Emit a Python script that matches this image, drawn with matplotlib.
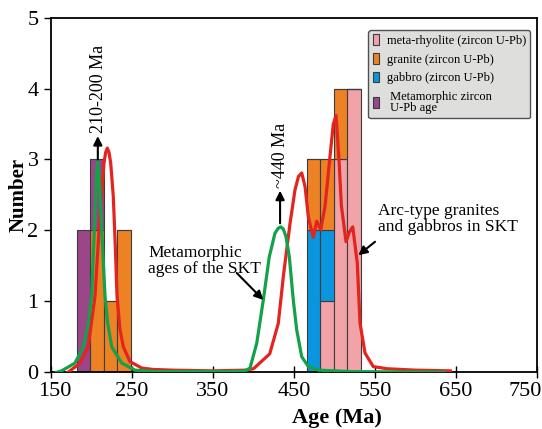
import matplotlib
matplotlib.use("Agg")
import matplotlib.pyplot as plt
import matplotlib.transforms as mtransforms
from matplotlib.patches import Patch

plt.rcParams['font.family'] = ['Liberation Serif', 'DejaVu Serif']

# histogram bins (left edge, Ma) and counts per source
bin_starts = [182, 198.6, 215.2, 231.8, 466, 482.6, 499.2, 515.8]
bin_width = 16.6
meta_rhyolite = [0, 0, 0, 0, 0, 1, 3, 4]
gabbro = [0, 0, 0, 0, 2, 1, 0, 0]
granite = [0, 2, 1, 2, 1, 1, 1, 0]
metamorphic = [2, 1, 0, 0, 0, 0, 0, 0]

# probability curves
red_age = [171, 186, 196, 204.3, 209.3, 213.8, 215.4, 217.5, 219.5, 221.6, 223.7,
           226.9, 229.4, 231.5, 235.2, 239.3, 247.5, 262, 276, 300, 350, 390,
           400, 420, 430.6, 436.8, 445.1, 451.2, 455.5, 459.5, 463.6, 467.7,
           473.8, 478, 483, 488.3, 494.4, 498.5, 501.9, 505.5, 508.5, 514.2,
           518.5, 522.5, 528.1, 531.5, 537.7, 547.9, 565, 600, 643]
red_val = [0.0, 0.13, 0.36, 1.07, 2.01, 2.71, 2.95, 3.1, 3.16, 3.1, 2.95,
           2.48, 1.77, 1.07, 0.6, 0.36, 0.15, 0.06, 0.04, 0.03, 0.02, 0.03,
           0.05, 0.26, 0.69, 1.35, 2.1, 2.57, 2.76, 2.81, 2.62, 2.19,
           1.9, 2.13, 2.01, 2.34, 3.04, 3.5, 3.62, 3.0, 2.35, 1.84,
           1.98, 2.05, 1.54, 0.69, 0.27, 0.08, 0.05, 0.03, 0.02]

green_age = [157, 163, 179.6, 189.9, 196, 200.2, 203.5, 205.6, 206.6, 207.6, 208.7,
             210.1, 212.6, 216.7, 220, 224.9, 237.3, 253.7, 280, 370, 389.5,
             395.7, 404, 412.1, 419.5, 426.5, 430.5, 433.6, 436.8, 440.1, 444.2,
             449.1, 453.3, 459.5, 467.7, 480, 520, 636]
green_val = [0.0, 0.02, 0.13, 0.36, 0.69, 1.07, 2.01, 2.62, 2.86, 2.97, 2.86,
             2.62, 2.01, 1.07, 0.69, 0.36, 0.13, 0.03, 0.01, 0.01, 0.02,
             0.06, 0.41, 1.02, 1.63, 1.96, 2.03, 2.05, 2.02, 1.91, 1.63,
             1.02, 0.6, 0.22, 0.08, 0.03, 0.01, 0.0]

x_ticks = [150, 250, 350, 450, 550, 650, 750]
y_ticks = [0, 1, 2, 3, 4, 5]

c_pink = '#F1A3A8'
c_orange = '#EC8224'
c_blue = '#0A96DF'
c_purple = '#9B4688'
edge = '#3c3c3c'

fig = plt.figure(figsize=(5.42, 4.29), dpi=100)
ax = fig.add_axes([0.0941, 0.1322, 0.8967, 0.8268])

bottom = [0] * len(bin_starts)
for vals, col in [(meta_rhyolite, c_pink), (gabbro, c_blue),
                  (granite, c_orange), (metamorphic, c_purple)]:
    ax.bar(bin_starts, vals, width=bin_width, bottom=bottom, align='edge',
           color=col, edgecolor=edge, linewidth=0.8, zorder=2)
    bottom = [b + v for b, v in zip(bottom, vals)]

ax.plot(red_age, red_val, color='#E3241F', lw=2.3, solid_joinstyle='round', zorder=3)
ax.plot(green_age, green_val, color='#13A14A', lw=2.3, solid_joinstyle='round', zorder=4)

ax.set_xlim(150, 750)
ax.set_ylim(0, 5)
ax.set_xticks(x_ticks)
ax.set_yticks(y_ticks)
ax.tick_params(axis='x', direction='inout', length=8, width=1, labelsize=16, pad=3)
ax.tick_params(axis='y', direction='out', length=5, width=1, labelsize=16, pad=4)
for s in ax.spines.values():
    s.set_linewidth(1.3)

# first and last x labels sit slightly inward, as in the original
xlabels = ax.get_xticklabels()
for lab, dx in [(xlabels[0], 4), (xlabels[-1], -12)]:
    lab.set_transform(lab.get_transform() +
                      mtransforms.ScaledTranslation(dx / 100, 0, fig.dpi_scale_trans))

ax.set_xlabel('Age (Ma)', fontsize=16, fontweight='bold')
ax.xaxis.set_label_coords(0.588, -0.1)
ax.set_ylabel('Number', fontsize=15, fontweight='bold')
ax.yaxis.set_label_coords(-0.046, 0.5)

arrow = dict(arrowstyle='-|>', color='black', lw=1.5, mutation_scale=13,
             shrinkA=0, shrinkB=0)
ax.annotate('', xy=(207.8, 3.33), xytext=(207.8, 3.0), arrowprops=arrow, zorder=5)
ax.text(208.4, 3.37, '210-200 Ma', rotation=90, ha='center', va='bottom', fontsize=13)
ax.annotate('', xy=(432.8, 2.56), xytext=(432.8, 2.1), arrowprops=arrow, zorder=5)
ax.text(433.2, 2.6, '~440 Ma', rotation=90, ha='center', va='bottom', fontsize=13)

ax.text(269.8, 1.8, 'Metamorphic\nages of the SKT', ha='left', va='top',
        fontsize=12.5, linespacing=1.0)
ax.annotate('', xy=(412.1, 1.02), xytext=(379.3, 1.4), arrowprops=arrow, zorder=5)

ax.text(553.7, 2.38, 'Arc-type granites\nand gabbros in SKT', ha='left', va='top',
        fontsize=12.5, linespacing=1.0)
ax.annotate('', xy=(529.4, 1.65), xytext=(550, 1.84), arrowprops=arrow, zorder=5)

handles = [Patch(facecolor=c, edgecolor=edge, linewidth=0.8)
           for c in [c_pink, c_orange, c_blue, c_purple]]
labels = ['meta-rhyolite (zircon U-Pb)', 'granite (zircon U-Pb)',
          'gabbro (zircon U-Pb)', ' Metamorphic zircon\n U-Pb age']
leg = ax.legend(handles, labels, loc='upper right', bbox_to_anchor=(0.986, 0.965),
                borderaxespad=0, fontsize=9, handlelength=0.5, handleheight=0.9,
                handletextpad=0.6, labelspacing=0.5, borderpad=0.35,
                fancybox=True, framealpha=1, facecolor='#DEDEDC', edgecolor='#505050')
leg.get_frame().set_linewidth(1.0)
for t in leg.get_texts():
    t.set_linespacing(0.9)

fig.savefig('out.png', dpi=100)
